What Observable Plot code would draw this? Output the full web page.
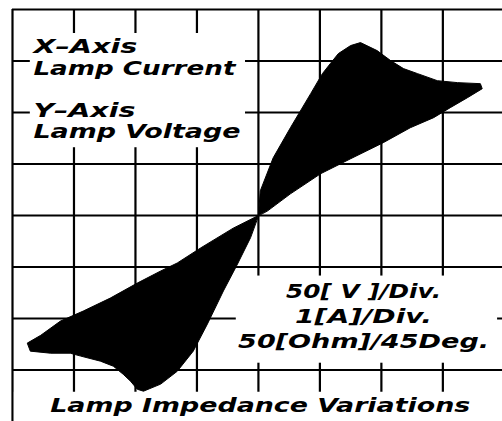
<!DOCTYPE html>
<html>
<head>
<meta charset="utf-8">
<script src="https://cdn.jsdelivr.net/npm/d3@7"></script>
<script src="https://cdn.jsdelivr.net/npm/@observablehq/plot@0.6"></script>
<style>
  html, body { margin: 0; padding: 0; background: #fff; }
  #chart svg { display: block; }
</style>
</head>
<body>
<div id="chart"></div>
<script>
// Grid divisions: 1 A/div (x), 50 V/div (y)
const currentTicks = [-4, -3, -2, -1, 0, 1, 2, 3];
const voltageTicks = [200, 150, 100, 50, 0, -50, -100, -150];

// Upper (first-quadrant) lobe of the V–I trace
const upperCurrent = [0, 0.03, 0.24, 0.52, 0.85, 1.04, 1.17, 1.30, 1.50, 1.66, 1.93, 2.15, 2.36, 2.59, 2.91, 3.24, 3.61, 3.64, 3.40, 3.12, 2.85, 2.47, 2.03, 1.50, 1.01, 0.52, 0.15];
const upperVoltage = [0, 23.9, 56.0, 85.2, 118.3, 137.7, 147.5, 157.2, 165.0, 167.9, 160.1, 150.4, 142.6, 137.7, 130.9, 129.0, 128.0, 123.1, 114.4, 104.7, 95.0, 85.2, 70.7, 55.1, 40.5, 21.0, 4.5];

// Lower (third-quadrant) lobe
const lowerCurrent = [0, -0.41, -0.94, -1.32, -1.59, -1.97, -2.41, -2.85, -3.22, -3.54, -3.76, -3.71, -3.38, -3.06, -2.89, -2.57, -2.36, -2.20, -2.08, -1.97, -1.87, -1.59, -1.32, -1.06, -0.83, -0.57, -0.34, -0.13];
const lowerVoltage = [0, -12.3, -31.5, -46.1, -53.9, -65.6, -80.2, -92.8, -102.5, -116.3, -123.9, -131.7, -133.7, -133.7, -136.5, -141.4, -146.3, -154.1, -160.9, -168.7, -170.6, -163.7, -151.2, -131.7, -105.4, -73.3, -47.1, -21.8];

// Label texts
const axisLabels = ["X\u2013Axis", "Lamp Current", "Y\u2013Axis", "Lamp Voltage"];
const scaleLabels = ["50[ V ]/Div.", "1[A]/Div.", "50[Ohm]/45Deg."];
const titleLabel = ["Lamp Impedance Variations"];

// Label anchors in chart units (A, V)
const axisLabelCurrent = [-3.66, -3.66, -3.66, -3.66];
const axisLabelVoltage = [163.4, 142.0, 101.2, 80.7];
const scaleLabelCurrent = [1.71, 1.71, 1.71];
const scaleLabelVoltage = [-73.9, -98.3, -122.6];
const titleCurrent = [0.03];
const titleVoltage = [-184.8];

// Blank panels behind the labels (chart units)
const panelI1 = [-3.71, -0.36, -3.97];
const panelI2 = [-0.21, 3.89, 3.97];
const panelV1 = [65.8, -58.8, -171.6];
const panelV2 = [176.7, -143.4, -200];

// Rendered text widths (px)
const textWidths = {
  "X\u2013Axis": 104, "Lamp Current": 202, "Y\u2013Axis": 102, "Lamp Voltage": 207,
  "50[ V ]/Div.": 155, "1[A]/Div.": 137, "50[Ohm]/45Deg.": 251,
  "Lamp Impedance Variations": 420
};

const trace = [
  ...upperCurrent.map((c, i) => ({lobe: "upper", I: c, V: upperVoltage[i]})),
  ...lowerCurrent.map((c, i) => ({lobe: "lower", I: c, V: lowerVoltage[i]}))
];
const panels = panelI1.map((d, i) => ({x1: d, x2: panelI2[i], y1: panelV1[i], y2: panelV2[i]}));
const axisRows = axisLabels.map((t, i) => ({t, I: axisLabelCurrent[i], V: axisLabelVoltage[i]}));
const scaleRows = scaleLabels.map((t, i) => ({t, I: scaleLabelCurrent[i], V: scaleLabelVoltage[i]}));
const titleRows = titleLabel.map((t, i) => ({t, I: titleCurrent[i], V: titleVoltage[i]}));

const font = {fontFamily: "DejaVu Sans", fontWeight: "bold", fontStyle: "italic", fontSize: 19, fill: "black"};

const chart = Plot.plot({
  width: 502,
  height: 421,
  marginLeft: 12,
  marginRight: 0,
  marginTop: 9,
  marginBottom: 0,
  style: {background: "white"},
  x: {domain: [-4, 3.97], axis: null},
  y: {domain: [-200, 200], axis: null},
  marks: [
    Plot.ruleX(currentTicks, {stroke: "black", strokeWidth: 2.2}),
    Plot.ruleY(voltageTicks, {x1: -4, x2: 3.97, stroke: "black", strokeWidth: 2.2}),
    Plot.rect(panels, {x1: "x1", x2: "x2", y1: "y1", y2: "y2", fill: "white"}),
    Plot.line(trace, {x: "I", y: "V", z: "lobe", curve: "linear-closed", fill: "black", stroke: "black", strokeWidth: 1}),
    Plot.text(axisRows, {x: "I", y: "V", text: "t", textAnchor: "start", ...font}),
    Plot.text(scaleRows, {x: "I", y: "V", text: "t", textAnchor: "middle", ...font}),
    Plot.text(titleRows, {x: "I", y: "V", text: "t", textAnchor: "middle", ...font})
  ]
});

d3.select(chart).selectAll("text").each(function () {
  const w = textWidths[this.textContent];
  if (w) {
    this.setAttribute("textLength", w);
    this.setAttribute("lengthAdjust", "spacingAndGlyphs");
  }
});

document.getElementById("chart").appendChild(chart);
</script>
</body>
</html>
